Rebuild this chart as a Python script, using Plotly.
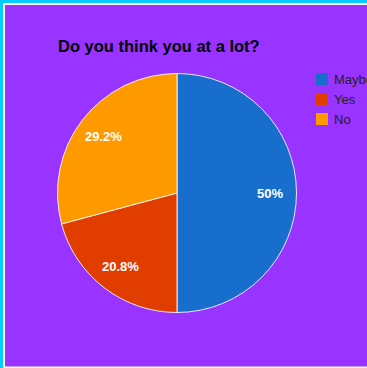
import math
import plotly.graph_objects as go

# Data
labels = ["Maybe", "Yes", "No"]
counts = [12, 5, 7]
colors = ["#176ECD", "#E13D00", "#FF9900"]
title_text = "Do you think you at a lot?"

W, H = 367, 368
FONT = "Liberation Sans, Arial, sans-serif"


def px(x):
    return x / W


def py(y):
    return 1 - y / H


# pie geometry (pixels)
CX, CY, R = 177, 193, 119.5

fig = go.Figure()
fig.add_trace(go.Pie(
    labels=labels,
    values=counts,
    sort=False,
    direction="clockwise",
    rotation=0,
    marker=dict(colors=colors, line=dict(color="rgba(255,255,255,0.85)", width=1)),
    textinfo="none",
    domain=dict(x=[px(CX - R), px(CX + R)], y=[py(CY + R), py(CY - R)]),
    hoverinfo="label+percent",
    showlegend=False,
))

annotations = [
    dict(text="<b>" + title_text + "</b>", xref="paper", yref="paper",
         x=px(56), y=py(46), xanchor="left", yanchor="middle",
         showarrow=False, font=dict(family=FONT, size=16.5, color="#000000")),
]

# percentage labels inside slices
total = sum(counts)
cum = 0
for c in counts:
    frac = c / total
    mid = (cum + frac / 2) * 2 * math.pi
    cum += frac
    pct = round(frac * 100, 1)
    txt = ("%.1f" % pct).rstrip("0").rstrip(".") + "%"
    lx = CX + 0.775 * R * math.sin(mid)
    ly = CY - 0.775 * R * math.cos(mid)
    annotations.append(dict(
        text="<b>" + txt + "</b>", xref="paper", yref="paper",
        x=px(lx), y=py(ly), xanchor="center", yanchor="middle",
        showarrow=False, font=dict(family=FONT, size=13, color="white")))

# legend (squares + labels)
shapes = [
    dict(type="rect", xref="paper", yref="paper", layer="below",
         x0=px(3), x1=px(W + 5), y0=py(H + 5), y1=py(3),
         fillcolor="white", line=dict(width=0)),
    dict(type="rect", xref="paper", yref="paper", layer="below",
         x0=px(5), x1=px(W + 5), y0=py(366.5), y1=py(5),
         fillcolor="#9933FF", line=dict(width=0)),
]
for i, (lab, col) in enumerate(zip(labels, colors)):
    yc = 79 + 20 * i
    shapes.append(dict(type="rect", xref="paper", yref="paper",
                       x0=px(316), x1=px(328), y0=py(yc + 6), y1=py(yc - 6),
                       fillcolor=col, line=dict(width=0)))
    annotations.append(dict(text=lab, xref="paper", yref="paper",
                            x=px(332), y=py(yc), xanchor="left", yanchor="middle",
                            showarrow=False,
                            font=dict(family=FONT, size=13, color="#222222")))

fig.update_layout(
    width=W, height=H,
    margin=dict(l=0, r=0, t=0, b=0),
    paper_bgcolor="#00CCFF",
    showlegend=False,
    shapes=shapes,
    annotations=annotations,
)

fig.write_html("out.html")
